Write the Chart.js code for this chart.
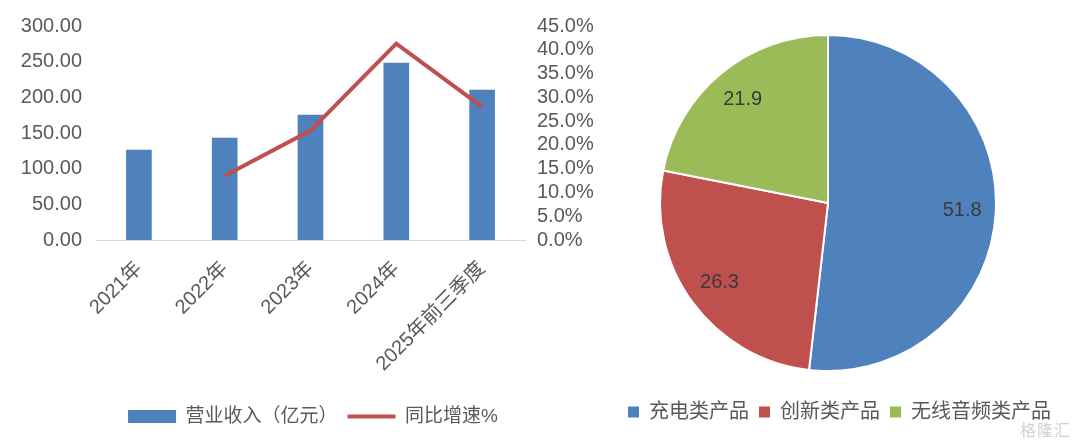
<!DOCTYPE html>
<html>
<head>
<meta charset="utf-8">
<script src="https://cdn.jsdelivr.net/npm/chart.js@4/dist/chart.umd.min.js"></script>
<style>
  html, body { margin: 0; padding: 0; background: #ffffff; }
  body { width: 1080px; height: 442px; position: relative; overflow: hidden; }
  #left { position: absolute; left: 0; top: 0; width: 631px; height: 442px; }
  #right { position: absolute; left: 580px; top: 0; width: 500px; height: 442px; }
  #wm { position: absolute; left: 1020px; top: 417px; font: 16px 'Noto Sans CJK SC', sans-serif; color: rgba(170,170,170,0.55); letter-spacing: 1px; }
</style>
</head>
<body>
<canvas id="left" width="631" height="442"></canvas>
<canvas id="right" width="500" height="442"></canvas>
<div id="wm">格隆汇</div>
<script>
// ---- data ----
const categories = ['2021年', '2022年', '2023年', '2024年', '2025年前三季度'];
const revenue = [126, 143, 175, 248, 210];          // 营业收入（亿元）
const growth = [null, 13.5, 23.0, 41.3, 28.0];       // 同比增速%
const revenueLabel = '营业收入（亿元）';
const growthLabel = '同比增速%';
const leftTicks = [0, 50, 100, 150, 200, 250, 300];
const rightTicks = [0, 5, 10, 15, 20, 25, 30, 35, 40, 45];

const pieLabels = ['充电类产品', '创新类产品', '无线音频类产品'];
const pieValues = [51.8, 26.3, 21.9];

// ---- styles ----
const FONT = "'Liberation Sans', 'Noto Sans CJK SC', sans-serif";
const GRAY = '#595959';
const BLUE = '#4f81bd';
const RED = '#c0504d';
const GREEN = '#9bbb59';

Chart.defaults.font.family = FONT;
Chart.defaults.color = GRAY;
Chart.defaults.animation = false;

new Chart(document.getElementById('left'), {
  data: {
    labels: categories,
    datasets: [
      {
        type: 'line',
        label: growthLabel,
        data: growth,
        yAxisID: 'y1',
        borderColor: RED,
        backgroundColor: RED,
        borderWidth: 4,
        pointRadius: 0,
        pointStyle: 'line',
        tension: 0,
        spanGaps: false,
        order: 0
      },
      {
        type: 'bar',
        label: revenueLabel,
        data: revenue,
        yAxisID: 'y',
        backgroundColor: BLUE,
        borderWidth: 0,
        barThickness: 25,
        pointStyle: 'rect',
        order: 1
      }
    ]
  },
  options: {
    responsive: false,
    layout: { padding: { top: 22, bottom: 6, left: 0, right: 5 } },
    plugins: {
      tooltip: { enabled: false },
      legend: {
        position: 'bottom',
        reverse: true,
        labels: {
          usePointStyle: true,
          pointStyleWidth: 48,
          boxHeight: 13,
          padding: 10,
          color: GRAY,
          font: { size: 19, family: FONT }
        }
      }
    },
    scales: {
      x: {
        grid: { display: false, drawTicks: false },
        border: { display: true, color: '#d9d9d9', width: 1 },
        ticks: {
          minRotation: 45, maxRotation: 45, autoSkip: false,
          padding: 17,
          color: GRAY,
          font: { size: 20, family: FONT }
        },
        afterFit(scale) { scale.height = 157; }
      },
      y: {
        position: 'left',
        min: 0, max: 300,
        grid: { display: false, drawTicks: false },
        border: { display: false },
        afterBuildTicks(scale) { scale.ticks = leftTicks.map(v => ({ value: v })); },
        ticks: {
          autoSkip: false,
          padding: 14,
          color: GRAY,
          font: { size: 20, family: FONT },
          callback: v => Number(v).toFixed(2)
        },
        afterFit(scale) { scale.width = 96; }
      },
      y1: {
        position: 'right',
        min: 0, max: 45,
        grid: { display: false, drawTicks: false },
        border: { display: false },
        afterBuildTicks(scale) { scale.ticks = rightTicks.map(v => ({ value: v })); },
        ticks: {
          autoSkip: false,
          padding: 12,
          color: GRAY,
          font: { size: 20, family: FONT },
          callback: v => Number(v).toFixed(1) + '%'
        },
        afterFit(scale) { scale.width = 101; }
      }
    }
  }
});

const pieValueLabels = {
  id: 'pieValueLabels',
  afterDatasetsDraw(chart) {
    const ctx = chart.ctx;
    const meta = chart.getDatasetMeta(0);
    ctx.save();
    ctx.font = '20px ' + FONT;
    ctx.fillStyle = '#3a3a3a';
    ctx.textAlign = 'center';
    ctx.textBaseline = 'middle';
    meta.data.forEach((arc, i) => {
      const p = arc.getProps(['x', 'y', 'startAngle', 'endAngle', 'outerRadius'], true);
      const mid = (p.startAngle + p.endAngle) / 2;
      const r = p.outerRadius * 0.8;
      ctx.fillText(String(chart.data.datasets[0].data[i]), p.x + Math.cos(mid) * r, p.y + Math.sin(mid) * r);
    });
    ctx.restore();
  }
};

new Chart(document.getElementById('right'), {
  type: 'pie',
  data: {
    labels: pieLabels,
    datasets: [{
      data: pieValues,
      backgroundColor: [BLUE, RED, GREEN],
      borderColor: '#ffffff',
      borderWidth: 2,
      radius: 168
    }]
  },
  options: {
    responsive: false,
    layout: { padding: { top: 14, bottom: 10, left: 15, right: 19 } },
    plugins: {
      tooltip: { enabled: false },
      legend: {
        position: 'bottom',
        align: 'end',
        labels: {
          boxWidth: 11,
          boxHeight: 11,
          padding: 10,
          color: GRAY,
          font: { size: 20, family: FONT },
          generateLabels(chart) {
            return Chart.overrides.pie.plugins.legend.labels.generateLabels(chart)
              .map(l => Object.assign(l, { lineWidth: 0, strokeStyle: 'transparent' }));
          }
        }
      }
    }
  },
  plugins: [pieValueLabels]
});
</script>
</body>
</html>
